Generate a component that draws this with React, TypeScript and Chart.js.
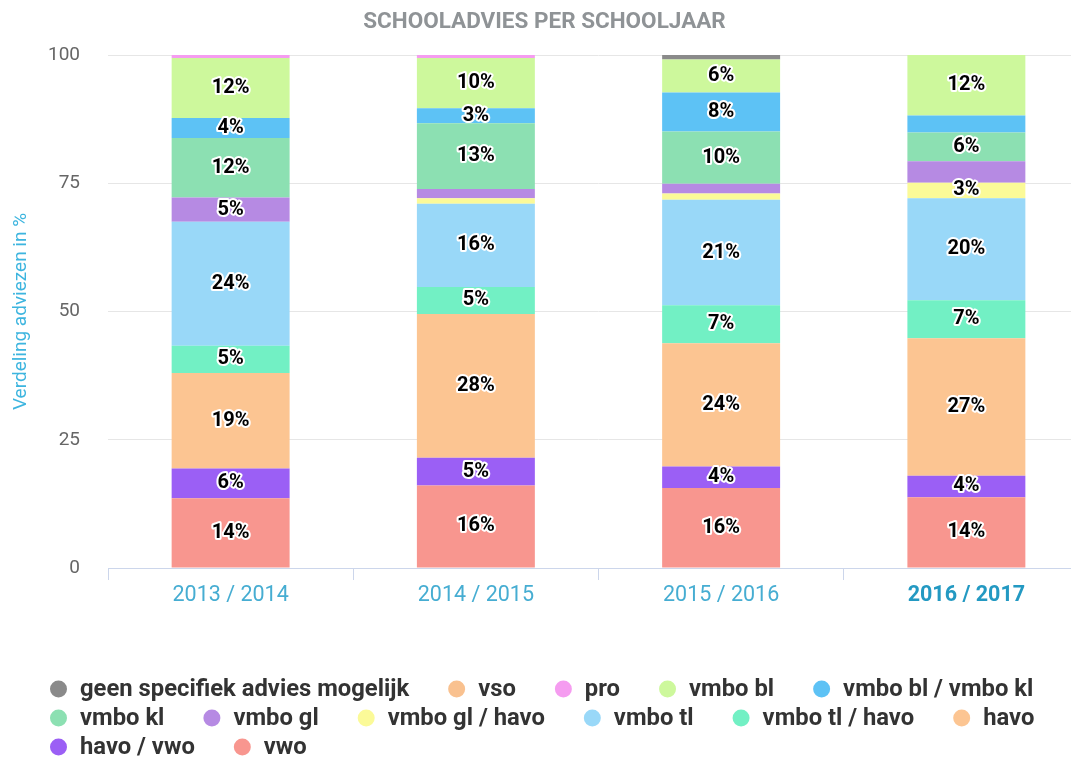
import React, { useEffect, useRef } from "react";
import { Chart, registerables } from "chart.js";

Chart.register(...registerables);

// ---- data ----
const categories = ["2013 / 2014", "2014 / 2015", "2015 / 2016", "2016 / 2017"];
const yTicks = [0, 25, 50, 75, 100];

const geen = [0, 0, 0.9, 0];
const vso = [0, 0, 0, 0];
const pro = [0.6, 0.6, 0, 0];
const vmboBl = [11.7, 9.8, 6.4, 11.8];
const vmboBlKl = [3.9, 2.9, 7.6, 3.3];
const vmboKl = [11.6, 12.8, 10.2, 5.6];
const vmboGl = [4.7, 1.8, 1.9, 4.2];
const vmboGlHavo = [0, 1.1, 1.2, 3.0];
const vmboTl = [24.2, 16.2, 20.6, 19.9];
const vmboTlHavo = [5.3, 5.3, 7.4, 7.4];
const havo = [18.6, 28.0, 24.0, 26.8];
const havoVwo = [5.8, 5.4, 4.2, 4.2];
const vwo = [13.6, 16.1, 15.6, 13.8];

// legend order (top of stack first)
const seriesNames = [
  "geen specifiek advies mogelijk",
  "vso",
  "pro",
  "vmbo bl",
  "vmbo bl / vmbo kl",
  "vmbo kl",
  "vmbo gl",
  "vmbo gl / havo",
  "vmbo tl",
  "vmbo tl / havo",
  "havo",
  "havo / vwo",
  "vwo",
];
const seriesValues = [geen, vso, pro, vmboBl, vmboBlKl, vmboKl, vmboGl, vmboGlHavo, vmboTl, vmboTlHavo, havo, havoVwo, vwo];
const seriesColors = [
  "#8a8a8a",
  "#f9c18f",
  "#f59cf0",
  "#cdf89c",
  "#5dc2f5",
  "#8ce0b2",
  "#b68ae3",
  "#fbfa98",
  "#99d8f8",
  "#72f0c4",
  "#fcc592",
  "#9b5ff5",
  "#f8968f",
];

const FONT = "Roboto";

const labelPlugin = {
  id: "stackLabels",
  afterDatasetsDraw(chart: any) {
    const ctx = chart.ctx;
    ctx.save();
    ctx.font = `bold 20px ${FONT}`;
    ctx.textAlign = "center";
    ctx.textBaseline = "middle";
    ctx.lineJoin = "round";
    const placed: number[][] = categories.map(() => []);
    chart.data.datasets.forEach((ds: any, di: number) => {
      const meta = chart.getDatasetMeta(di);
      meta.data.forEach((el: any, i: number) => {
        const v = ds.data[i];
        if (!v || v < 2.5) return;
        const p = el.getProps(["x", "y", "base"], true);
        const cy = (p.y + p.base) / 2;
        if (placed[i].some((q) => Math.abs(q - cy) < 26)) return;
        placed[i].push(cy);
        const t = Math.round(v) + "%";
        ctx.strokeStyle = "#ffffff";
        ctx.lineWidth = 4;
        ctx.strokeText(t, p.x, cy);
        ctx.fillStyle = "#000000";
        ctx.fillText(t, p.x, cy);
      });
    });
    ctx.restore();
  },
};

const legendPlugin = {
  id: "customLegend",
  afterDraw(chart: any) {
    const ctx = chart.ctx;
    ctx.save();
    ctx.font = `bold 23.8px ${FONT}`;
    ctx.textBaseline = "middle";
    ctx.textAlign = "left";
    const left = 50;
    const maxRight = 1062;
    const firstY = chart.height - 71;
    const rowH = 29;
    let x = left;
    let row = 0;
    seriesNames.forEach((name, k) => {
      const w = 30 + ctx.measureText(name).width;
      if (x > left && x + w > maxRight) {
        row++;
        x = left;
      }
      const y = firstY + row * rowH;
      ctx.beginPath();
      ctx.fillStyle = seriesColors[k];
      ctx.arc(x + 8.5, y, 8.5, 0, Math.PI * 2);
      ctx.fill();
      ctx.fillStyle = "#333333";
      ctx.fillText(name, x + 30, y + 1);
      x += w + 39;
    });
    ctx.restore();
  },
};

export default function App() {
  const ref = useRef<HTMLCanvasElement>(null);

  useEffect(() => {
    const canvas = ref.current!;
    const order = seriesNames.map((_, i) => i).reverse();
    const chart = new Chart(canvas, {
      type: "bar",
      data: {
        labels: categories,
        datasets: order.map((i) => ({
          label: seriesNames[i],
          data: seriesValues[i],
          backgroundColor: seriesColors[i],
          borderWidth: 0,
          barPercentage: 0.481,
          categoryPercentage: 1,
        })),
      },
      options: {
        responsive: false,
        animation: false,
        layout: { padding: { left: 0, right: 1, top: 0, bottom: 152 } },
        plugins: {
          legend: { display: false },
          tooltip: { enabled: false },
          title: {
            display: true,
            text: "SCHOOLADVIES PER SCHOOLJAAR",
            color: "#8f9396",
            font: { family: FONT, size: 22.5, weight: "bold" },
            padding: { top: 9, bottom: 19 },
          },
        },
        scales: {
          x: {
            stacked: true,
            afterFit: (s: any) => {
              s.height = 40;
            },
            grid: {
              display: true,
              drawOnChartArea: false,
              drawTicks: true,
              tickLength: 12,
              color: "#ccd6eb",
              offset: true,
            },
            border: { display: true, color: "#ccd6eb", width: 1 },
            ticks: {
              padding: 3,
              color: (c: any) => (c.index === 3 ? "#2399c2" : "#46add2"),
              font: (c: any) => ({ family: FONT, size: 21.5, weight: c.index === 3 ? "bold" : "normal" }),
            },
          },
          y: {
            stacked: true,
            min: 0,
            max: 100,
            afterFit: (s: any) => {
              s.width = 108;
            },
            afterBuildTicks: (s: any) => {
              s.ticks = yTicks.map((v) => ({ value: v }));
            },
            grid: {
              color: (c: any) => (c.tick && c.tick.value === 0 ? "rgba(0,0,0,0)" : "#e6e6e6"),
              drawTicks: false,
            },
            border: { display: false },
            ticks: {
              padding: 28,
              color: "#666666",
              font: { family: FONT, size: 19 },
            },
            title: {
              display: true,
              text: "Verdeling adviezen in %",
              color: "#3db5df",
              font: { family: FONT, size: 19 },
              padding: { top: 10, bottom: 0 },
            },
          },
        },
      },
      plugins: [labelPlugin, legendPlugin],
    });
    return () => chart.destroy();
  }, []);

  return (
    <div
      style={{
        position: "fixed",
        left: 0,
        top: 0,
        width: 1071,
        height: 760,
        overflow: "hidden",
        background: "#ffffff",
      }}
    >
      <canvas ref={ref} width={1090} height={760} style={{ display: "block", width: 1090, height: 760 }} />
    </div>
  );
}
